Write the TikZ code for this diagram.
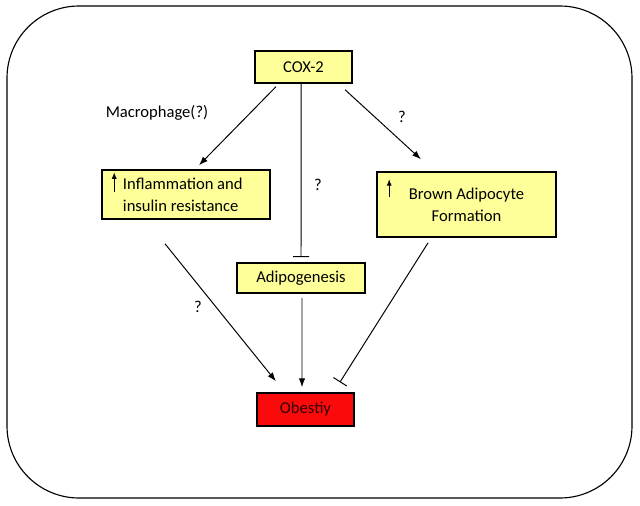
\documentclass[tikz,border=0pt]{standalone}
\usepackage{fontspec}
\setmainfont{Carlito}
\usetikzlibrary{arrows.meta}

\tikzset{
    yellowbox/.style={draw=black, line width=1.1pt, fill={rgb,255:red,255;green,255;blue,153}, inner sep=2pt},
    redbox/.style={draw=black, line width=1.1pt, fill={rgb,255:red,250;green,10;blue,10}, inner sep=2pt},
    link/.style={line width=0.7pt, -{Latex[length=0.22cm,width=0.16cm]}},
    block/.style={line width=0.7pt, -{Bar[width=0.4cm,line width=0.7pt]}},
    qmark/.style={inner sep=0pt}
}

\begin{document}
\begin{tikzpicture}[x=0.025cm, y=-0.025cm, font=\fontsize{11.8}{15.5}\selectfont]
    \useasboundingbox (0,0) rectangle (640,506);

    % Outer frame
    \draw[line width=0.8pt, rounded corners=1.8cm] (7,6) rectangle (632,498);

    % Boxes
    \node[yellowbox, minimum width=2.425cm, minimum height=0.8cm] (cox) at (303.5,67) {COX-2};
    \node[yellowbox, inner sep=0pt, minimum width=4.2cm, minimum height=1.225cm] (inflam) at (186,194.5)
        {\hspace*{0.45cm}\parbox{3.6cm}{\raggedright Inflammation and\\insulin resistance}};
    \node[yellowbox, align=center, minimum width=4.475cm, minimum height=1.625cm] (brown) at (466.5,204.5)
        {\raisebox{2pt}{\parbox{4cm}{\centering Brown Adipocyte\\Formation}}};
    \node[yellowbox, minimum width=3.2cm, minimum height=0.75cm] (adipo) at (301,278) {Adipogenesis};
    \node[redbox, text={rgb,255:red,50;green,0;blue,0}, minimum width=2.425cm, minimum height=0.825cm] (obes) at (305.5,409.5) {Obestiy};

    % Small up arrows inside the boxes
    \draw[-{Latex[length=0.17cm,width=0.13cm]}, line width=0.9pt] ([xshift=0.325cm,yshift=0.06cm]inflam.west) -- ++(0,-20);
    \draw[-{Latex[length=0.17cm,width=0.13cm]}, line width=0.9pt] ([xshift=0.325cm,yshift=0.19cm]brown.west) -- ++(0,-18);

    % Labels
    \node[qmark] (lblmac) at (157,113) {Macrophage(?)};
    \node[qmark] (lblq1) at (402,117) {?};
    \node[qmark] (lblq2) at (318,185) {?};
    \node[qmark] (lblq3) at (198,307) {?};

    % Connectors
    \draw[link] ([xshift=-0.69cm,yshift=-0.075cm]cox.south) -- ([xshift=0.325cm,yshift=0.1cm]inflam.north);
    \draw[block] ([xshift=-0.06cm]cox.south) -- ([yshift=0.125cm]adipo.north);
    \draw[link] ([xshift=1.04cm,yshift=-0.15cm]cox.south) -- ([xshift=-1.14cm,yshift=0.3cm]brown.north);
    \draw[link] ([xshift=-0.525cm,yshift=-0.6cm]inflam.south) -- ([xshift=-0.74cm,yshift=0.275cm]obes.north);
    \draw[link] ([xshift=0.025cm,yshift=-0.1cm]adipo.south) -- ([xshift=-0.0875cm,yshift=0.125cm]obes.north);
    \draw[block] ([xshift=-0.96cm,yshift=-0.125cm]brown.south) -- ([xshift=0.86cm,yshift=0.25cm]obes.north);
\end{tikzpicture}
\end{document}
